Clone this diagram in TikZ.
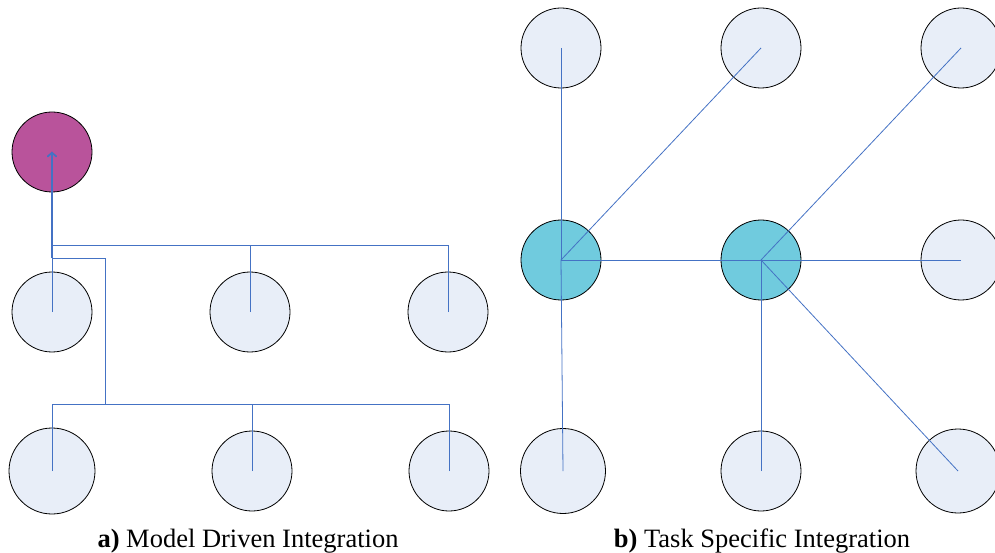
\documentclass[tikz,border=0pt]{standalone}
\usepackage{fontspec}
\setmainfont{Liberation Serif}
\usetikzlibrary{positioning, arrows.meta}

\definecolor{taskfill}{RGB}{232,238,248}
\definecolor{modelfill}{RGB}{185,83,155}
\definecolor{hubfill}{RGB}{112,203,222}
\definecolor{linkblue}{RGB}{68,114,196}

\begin{document}
\begin{tikzpicture}[x=1pt, y=1pt, node distance=200pt, >={Straight Barb[length=4pt, width=9pt]}, every node/.style={draw, circle, minimum size=80pt, inner sep=0pt, line width=0.8pt, fill=taskfill}, link/.style={draw=linkblue, line width=0.8pt}, caption/.style={draw=none, fill=none, rectangle, anchor=base, font=\fontsize{26.5}{30}\selectfont}]

\useasboundingbox (0,0) rectangle (995,552);

  % Model driven nodes
  \node (model) [fill=modelfill] at (52,400) {};
  \node (a1) [below of=model, yshift=40pt] {};
  \node (a2) [right of=a1, xshift=-2pt] {};
  \node (a3) [right of=a2, xshift=-2pt] {};
  \node (b1) [below of=a1, yshift=41pt, minimum size=86pt] {};
  \node (b2) [right of=b1] {};
  \node (b3) [right of=b2, xshift=-3pt] {};

  \coordinate (abus) at (52,307);
  \coordinate (bbus) at (105,148);
  \coordinate (bjoin) at (105,294);

  % Model driven arrows
  \draw[link, ->] (a1.center) -- (model.center);
  \draw[link, ->] (a2.center) |- (abus) -- (model.center);
  \draw[link, ->] (a3.center) |- (abus) -- (model.center);
  \draw[link, ->] (b1.center) |- (bbus) -- (bjoin) -| (model.center);
  \draw[link, ->] (b2.center) |- (bbus) -- (bjoin) -| (model.center);
  \draw[link, ->] (b3.center) |- (bbus) -- (bjoin) -| (model.center);
  \draw[link, line width=1.4pt, ->] (model.center |- bjoin) -- (model.center);

  % Task specific nodes
  \node (hub1) [fill=hubfill] at (561,292) {};
  \node (hub2) [right of=hub1, fill=hubfill] {};
  \node (m3) [right of=hub2] {};
  \node (t1) [above of=hub1, yshift=12pt] {};
  \node (t2) [above of=hub2, yshift=12pt] {};
  \node (t3) [right of=t2] {};
  \node (d1) [below of=hub1, yshift=-11pt, xshift=2pt, minimum size=85pt] {};
  \node (d2) [below of=hub2, yshift=-11pt] {};
  \node (d3) [right of=d2, xshift=-3pt, minimum size=84pt] {};

  % Task specific links
  \draw[link] (t1.center) -- (hub1.center);
  \draw[link] (t2.center) -- (hub1.center);
  \draw[link] (d1.center) -- (hub1.center);
  \draw[link] (hub1.center) -- (hub2.center);
  \draw[link] (t3.center) -- (hub2.center);
  \draw[link] (m3.center) -- (hub2.center);
  \draw[link] (d2.center) -- (hub2.center);
  \draw[link] (d3.center) -- (hub2.center);

  % Captions
  \node (capa) [caption] at (248,5) {\textbf{a)} Model Driven Integration};
  \node (capb) [caption] at (762,5) {\textbf{b)} Task Specific Integration};

\end{tikzpicture}
\end{document}
